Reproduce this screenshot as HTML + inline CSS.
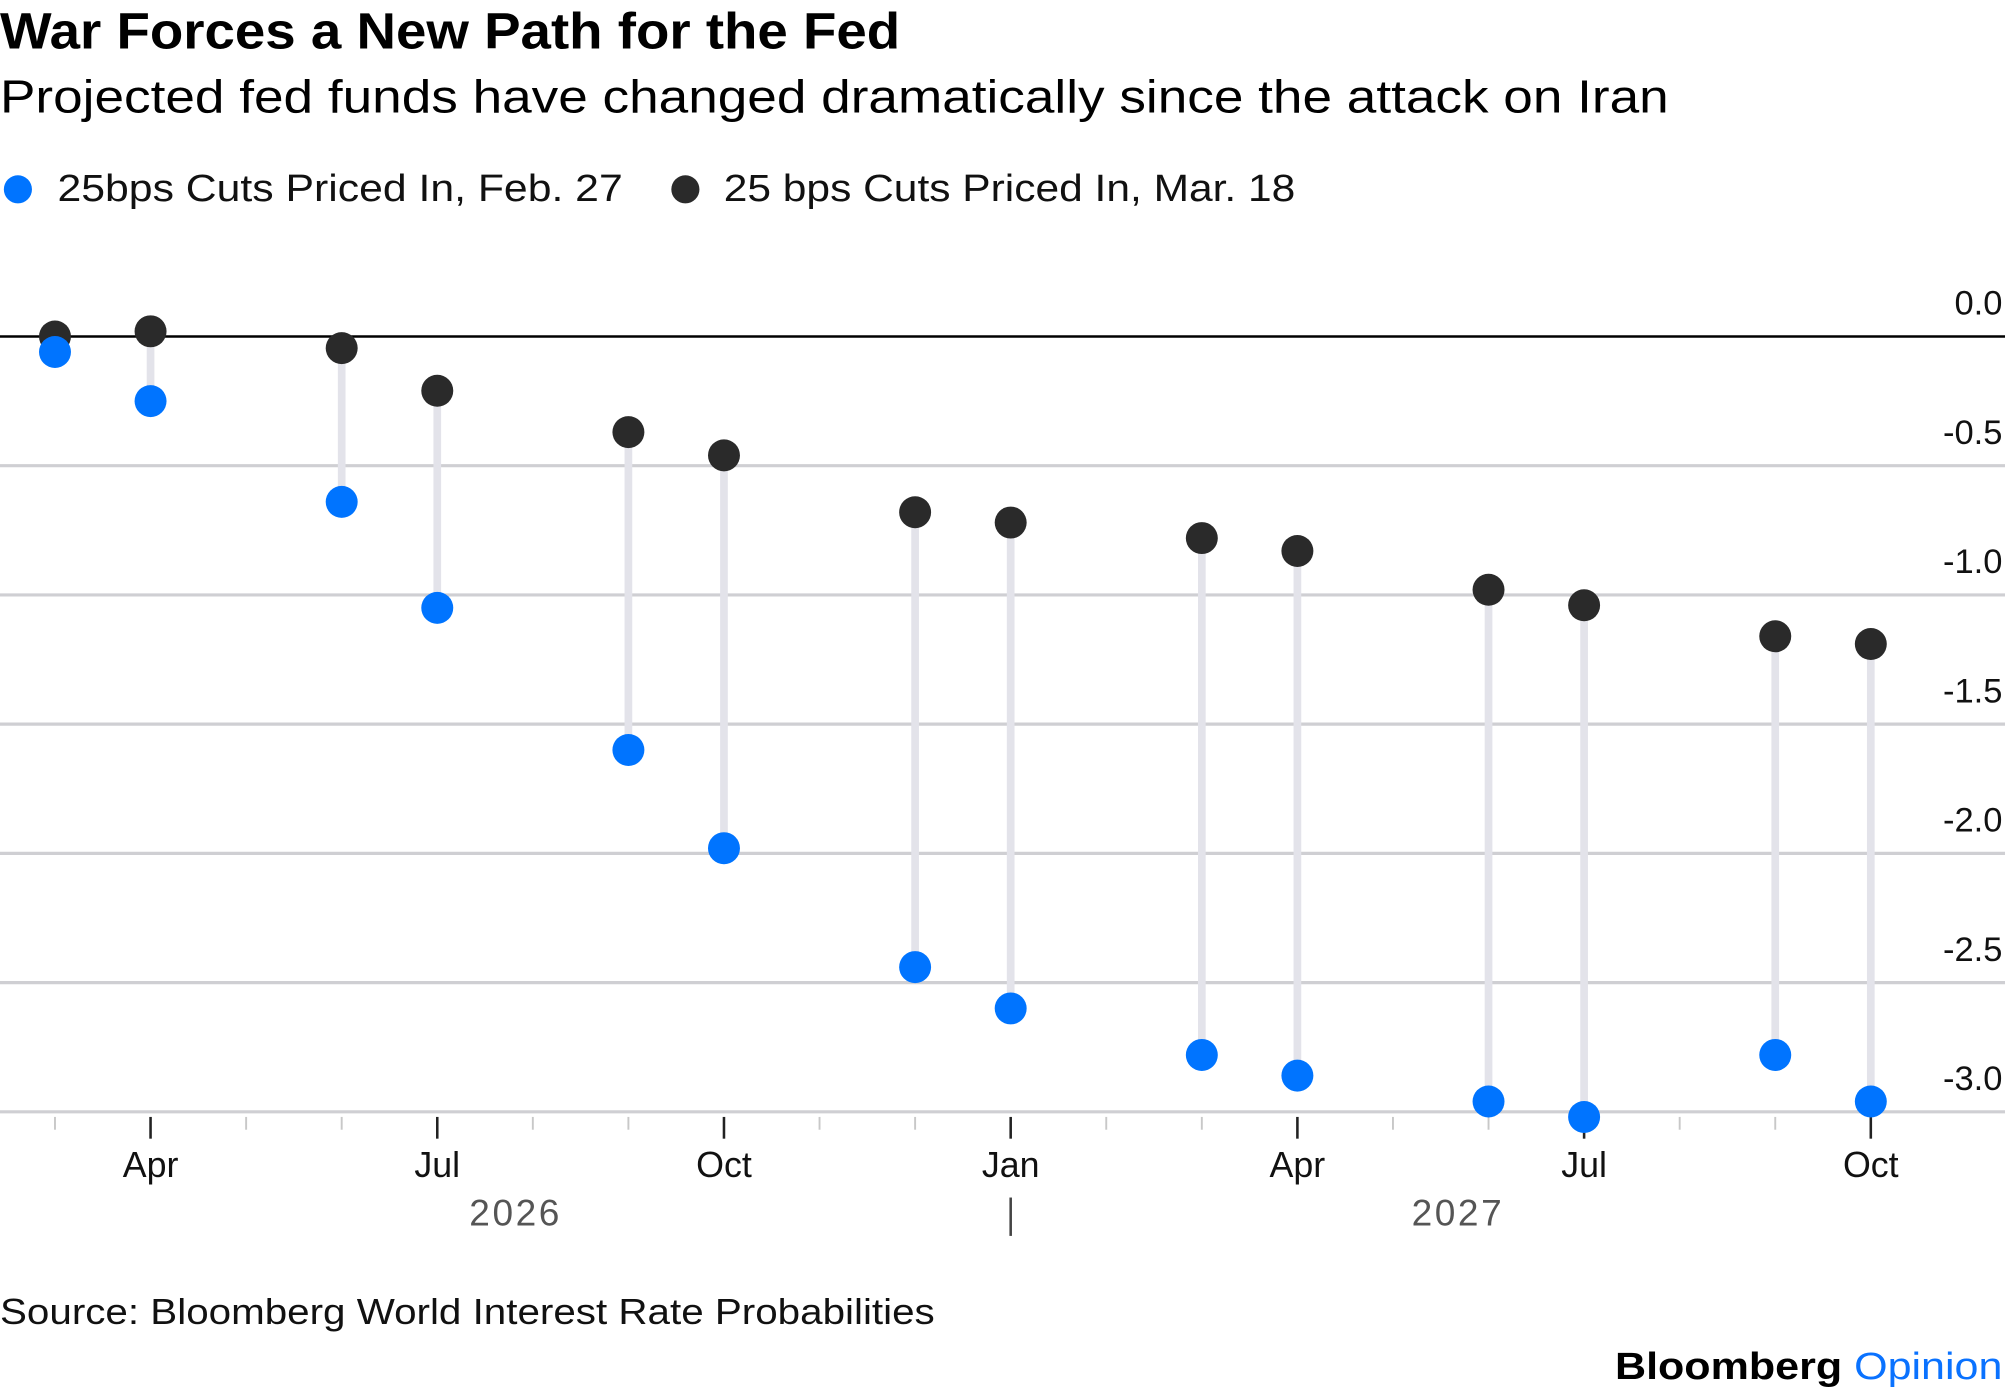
<!DOCTYPE html>
<html><head><meta charset="utf-8">
<style>
html,body{margin:0;padding:0;background:#fff;}
svg{display:block;font-family:"Liberation Sans",Arial,sans-serif;}
</style></head>
<body>
<svg id="chart" width="2005" height="1392" viewBox="0 0 1568 1088" preserveAspectRatio="none" xmlns="http://www.w3.org/2000/svg">
<text x="0" y="38" font-size="40" font-weight="bold" fill="#000" textLength="704" lengthAdjust="spacingAndGlyphs">War Forces a New Path for the Fed</text>
<text x="0" y="88" font-size="36" fill="#000" textLength="1305" lengthAdjust="spacingAndGlyphs">Projected fed funds have changed dramatically since the attack on Iran</text>
<g>
<circle cx="14" cy="148" r="11" fill="#0074ff"/>
<text x="45" y="157" font-size="30" fill="#111" textLength="442" lengthAdjust="spacingAndGlyphs">25bps Cuts Priced In, Feb. 27</text>
<circle cx="536" cy="148" r="11" fill="#2a2a2a"/>
<text x="566" y="157" font-size="30" fill="#111" textLength="447" lengthAdjust="spacingAndGlyphs">25 bps Cuts Priced In, Mar. 18</text>
</g>
<g id="grid"></g>
<g id="xaxis"></g>
<g id="marks"></g>
<text x="0" y="1035" font-size="28" fill="#111" textLength="731" lengthAdjust="spacingAndGlyphs">Source: Bloomberg World Interest Rate Probabilities</text>
<text x="1263" y="1078" font-size="30" font-weight="bold" fill="#000" textLength="303" lengthAdjust="spacingAndGlyphs">Bloomberg <tspan fill="#0a72ff" font-weight="normal">Opinion</tspan></text>
</svg>
<script>
const months = ["Mar26","Apr26","Jun26","Jul26","Sep26","Oct26","Dec26","Jan27","Mar27","Apr27","Jun27","Jul27","Sep27","Oct27"];
const monthIndex = [0,1,3,4,6,7,9,10,12,13,15,16,18,19];
const feb27 = [-0.06,-0.25,-0.64,-1.05,-1.60,-1.98,-2.44,-2.60,-2.78,-2.86,-2.96,-3.02,-2.78,-2.96];
const mar18 = [0.00,0.02,-0.045,-0.21,-0.37,-0.46,-0.68,-0.72,-0.78,-0.83,-0.98,-1.04,-1.16,-1.19];
const yTicks = [0,-0.5,-1,-1.5,-2,-2.5,-3];
const yTickLabels = ["0.0","-0.5","-1.0","-1.5","-2.0","-2.5","-3.0"];
const xLabels = ["Apr","Jul","Oct","Jan","Apr","Jul","Oct"];
const xLabelIndex = [1,4,7,10,13,16,19];
const yearLabels = ["2026","2027"];
const yearLabelPos = [4.82,14.68];

const NS="http://www.w3.org/2000/svg";
function y(v){return 263-202*v;}
function x(i){return 43+i*74.74;}
function mk(tag,attrs,parent){const e=document.createElementNS(NS,tag);for(const k in attrs)e.setAttribute(k,attrs[k]);parent.appendChild(e);return e;}
const grid=document.getElementById('grid'),xa=document.getElementById('xaxis'),marks=document.getElementById('marks');

yTicks.forEach((t,i)=>{
  const ln=mk('line',{x1:0,x2:1568,y1:y(t),y2:y(t),stroke:t===0?'#000':'#cfcfd3','stroke-width':t===0?2:2.5},grid);
  
  
  const tx=mk('text',{x:1566,y:y(t)-17,'text-anchor':'end','font-size':27,fill:'#111'},grid);
  tx.textContent=yTickLabels[i];
  
  
});
for(let m=0;m<=19;m++){
  const major=xLabelIndex.includes(m);
  const tk=mk('line',{x1:x(m),x2:x(m),y1:873,y2:major?890:883,stroke:major?'#222':'#c8c8c8','stroke-width':major?2:1.5},xa);
  
  
}
xLabels.forEach((l,i)=>{
  const tx=mk('text',{x:x(xLabelIndex[i]),y:920,'text-anchor':'middle','font-size':28,fill:'#111'},xa);
  tx.textContent=l;
  
  
});
yearLabels.forEach((l,i)=>{
  const tx=mk('text',{x:x(yearLabelPos[i]),y:958,'text-anchor':'middle','font-size':29,fill:'#555','letter-spacing':'2'},xa);
  tx.textContent=l;
  
  
});
const sep=mk('line',{x1:x(10),x2:x(10),y1:936,y2:966,stroke:'#444','stroke-width':2},xa);



months.forEach((m,i)=>{
  const cx=x(monthIndex[i]);
  const st=mk('line',{x1:cx,x2:cx,y1:y(mar18[i]),y2:y(feb27[i]),stroke:'#e3e3ea','stroke-width':6},marks);
  
  
});
months.forEach((m,i)=>{
  const cx=x(monthIndex[i]);
  const b=mk('circle',{cx:cx,cy:y(mar18[i]),r:12.5,fill:'#2a2a2a'},marks);
  
  
  const c=mk('circle',{cx:cx,cy:y(feb27[i]),r:12.5,fill:'#0074ff'},marks);
  
  
});
</script>
</body></html>
